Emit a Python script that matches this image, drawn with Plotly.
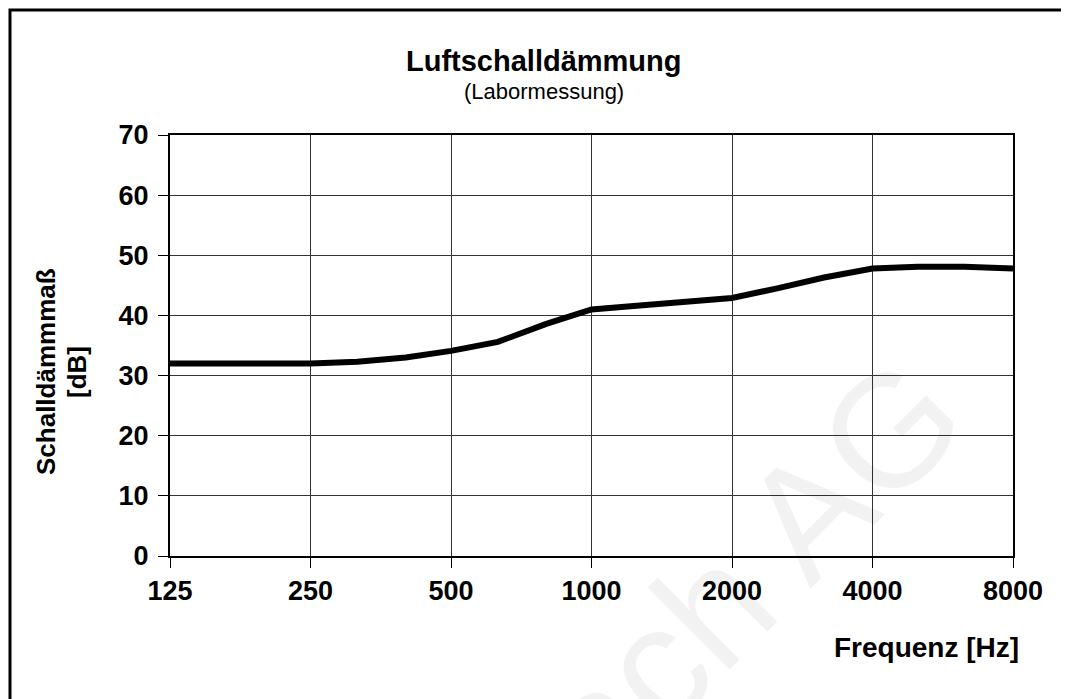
import plotly.graph_objects as go

freq_hz = [125, 160, 200, 250, 315, 400, 500, 630, 800, 1000, 1250, 1600,
           2000, 2500, 3150, 4000, 5000, 6300, 8000]
r_db = [32.0, 32.0, 32.0, 32.0, 32.3, 33.0, 34.1, 35.6, 38.6, 41.0, 41.6, 42.2,
        42.9, 44.5, 46.3, 47.8, 48.1, 48.1, 47.8]

x_ticks = [125, 250, 500, 1000, 2000, 4000, 8000]
x_tick_labels = [str(v) for v in x_ticks]
y_ticks = [0, 10, 20, 30, 40, 50, 60, 70]

FONT = "Liberation Sans, Arial, sans-serif"

fig = go.Figure()
fig.add_trace(go.Scatter(x=freq_hz, y=r_db, mode="lines",
                         line=dict(color="black", width=6),
                         showlegend=False, hoverinfo="skip"))

OFF = 8  # page body margin
W, H = 1069 - OFF, 699 - OFF
# plot area in screen pixels: x 170..1013, y 135..556
L, T = 170 - OFF, 135 - OFF
R = W - (1013 - OFF)
B = H - (556 - OFF)
pw, ph = W - L - R, H - T - B


def px(sx):
    return (sx - OFF - L) / pw


def py(sy):
    return (H - B - (sy - OFF)) / ph


def ann(text, sx, sy, size, xanchor="center", yanchor="middle", angle=0, color="black"):
    return dict(text=text, xref="paper", yref="paper", x=px(sx), y=py(sy),
                xanchor=xanchor, yanchor=yanchor, showarrow=False, textangle=angle,
                font=dict(size=size, family=FONT, color=color))


fig.update_layout(
    width=W, height=H,
    margin=dict(l=L, r=R, t=T, b=B),
    paper_bgcolor="white", plot_bgcolor="white",
    font=dict(family=FONT, color="black"),
    xaxis=dict(type="log", range=[2.0969100130080562, 3.9030899869919438],
               tickvals=x_ticks, ticktext=x_tick_labels,
               tickfont=dict(size=27, family=FONT, color="black", weight="bold"),
               showgrid=True, gridcolor="#333333", gridwidth=1,
               showline=True, linecolor="black", linewidth=2, mirror=True,
               ticks="outside", ticklen=10, tickcolor="black", tickwidth=1,
               zeroline=False),
    yaxis=dict(range=[0, 70], tickvals=y_ticks,
               tickfont=dict(size=27, family=FONT, color="black", weight="bold"),
               showgrid=True, gridcolor="#333333", gridwidth=1,
               showline=True, linecolor="black", linewidth=2, mirror=True,
               ticks="outside", ticklen=10, tickcolor="black", tickwidth=1,
               ticklabelstandoff=4, zeroline=False),
    shapes=[dict(type="rect", xref="paper", yref="paper",
                 x0=px(10), x1=px(1063), y0=py(760), y1=py(10),
                 line=dict(color="black", width=3), fillcolor="rgba(0,0,0,0)",
                 layer="above")],
    annotations=[
        ann("<b>Luftschalldämmung</b>", 544, 61, 29),
        ann("(Labormessung)", 544, 91, 22),
        ann("<b>Schalldämmmaß</b>", 46, 372, 26, angle=-90),
        ann("<b>[dB]</b>", 77, 372, 26, angle=-90),
        ann("<b>Frequenz [Hz]</b>", 1021, 647, 28, xanchor="right"),
        ann("ach AG", 748, 572, 160, color="rgba(0,0,0,0.05)", angle=-45),
    ],
)

fig.write_html("out.html")
